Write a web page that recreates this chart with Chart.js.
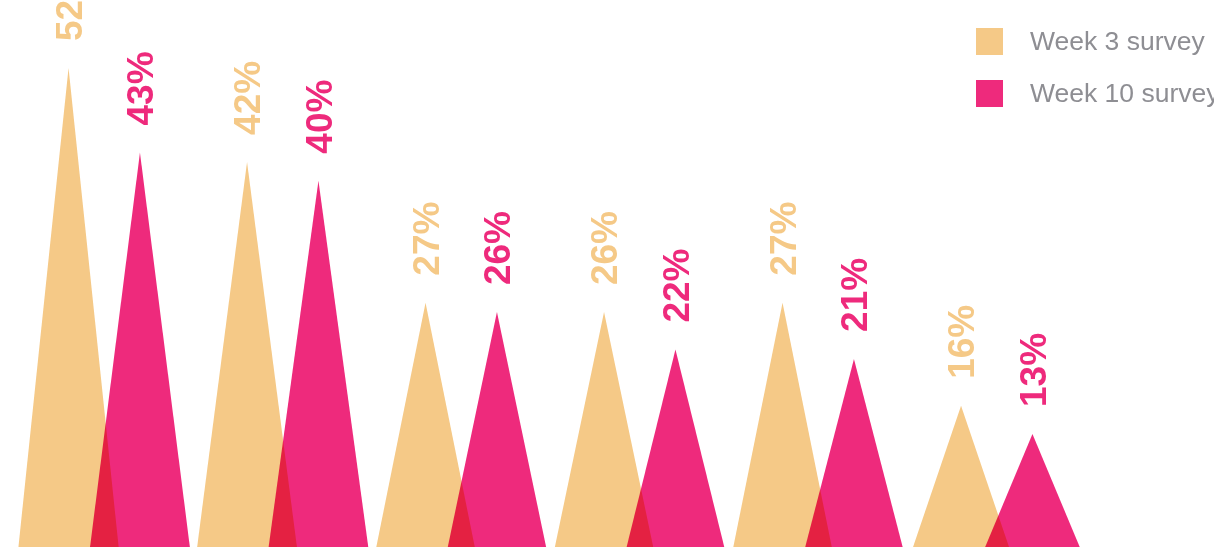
<!DOCTYPE html>
<html>
<head>
<meta charset="utf-8">
<script src="https://cdn.jsdelivr.net/npm/chart.js@4/dist/chart.umd.min.js"></script>
<style>
  html, body { margin: 0; padding: 0; background: #fff; overflow: hidden; }
  body { width: 1214px; height: 547px; position: relative; }
  #wrap { position: absolute; left: 0; top: -7px; width: 1214px; height: 563px; }
  .legend { position: absolute; left: 976px; top: 28px; font-family: "Liberation Sans", Arial, sans-serif; font-size: 26.5px; color: #8e8e93; white-space: nowrap; }
  .legend-item { display: flex; align-items: center; height: 27px; margin-bottom: 25px; }
  .legend-box { width: 27px; height: 27px; margin-right: 27px; flex-shrink: 0; }
</style>
</head>
<body>
<div id="wrap"><canvas id="chart"></canvas></div>
<div class="legend" id="legend"></div>

<script>
'use strict';

const categories = ['1', '2', '3', '4', '5', '6'];
const seriesNames = ['Week 3 survey', 'Week 10 survey'];
const week3 = [52, 42, 27, 26, 27, 16];
const week10 = [43, 40, 26, 22, 21, 13];
const colors = ['#f5c987', '#ee2a7c'];

// bars stay invisible; each one becomes a wide triangle peaking at its value
const trianglePlugin = {
  id: 'triangles',
  afterDatasetsDraw(chart) {
    const ctx = chart.ctx;
    chart.data.datasets.forEach((ds, i) => {
      const meta = chart.getDatasetMeta(i);
      ctx.save();
      ctx.globalCompositeOperation = i > 0 ? 'multiply' : 'source-over';
      ctx.fillStyle = colors[i];
      meta.data.forEach(bar => {
        const half = bar.width * 0.715;
        ctx.beginPath();
        ctx.moveTo(bar.x - half, bar.base);
        ctx.lineTo(bar.x, bar.y);
        ctx.lineTo(bar.x + half, bar.base);
        ctx.closePath();
        ctx.fill();
      });
      ctx.restore();
    });

    // rotated value labels above each peak
    chart.data.datasets.forEach((ds, i) => {
      const meta = chart.getDatasetMeta(i);
      meta.data.forEach((bar, j) => {
        ctx.save();
        ctx.translate(bar.x + 3, bar.y - 27);
        ctx.rotate(-Math.PI / 2);
        ctx.font = 'bold 37px "Liberation Sans", Arial, sans-serif';
        ctx.fillStyle = colors[i];
        ctx.textAlign = 'left';
        ctx.textBaseline = 'middle';
        ctx.fillText(ds.data[j] + '%', 0, 0);
        ctx.restore();
      });
    });
  },
};

new Chart(document.getElementById('chart'), {
  type: 'bar',
  data: {
    labels: categories,
    datasets: [
      { label: seriesNames[0], data: week3, backgroundColor: 'transparent' },
      { label: seriesNames[1], data: week10, backgroundColor: 'transparent' },
    ],
  },
  options: {
    responsive: true,
    maintainAspectRatio: false,
    animation: false,
    layout: { padding: { left: 15, right: 128, top: 0, bottom: 0 } },
    datasets: { bar: { categoryPercentage: 0.8, barPercentage: 1 } },
    scales: {
      x: { display: false },
      y: { display: false, min: 0, max: 60 },
    },
    plugins: { legend: { display: false }, tooltip: { enabled: false } },
  },
  plugins: [trianglePlugin],
});

document.getElementById('legend').innerHTML = seriesNames.map((name, i) => `
  <div class="legend-item"><span class="legend-box" style="background:${colors[i]}"></span>${name}</div>
`).join('');
</script>
</body>
</html>
